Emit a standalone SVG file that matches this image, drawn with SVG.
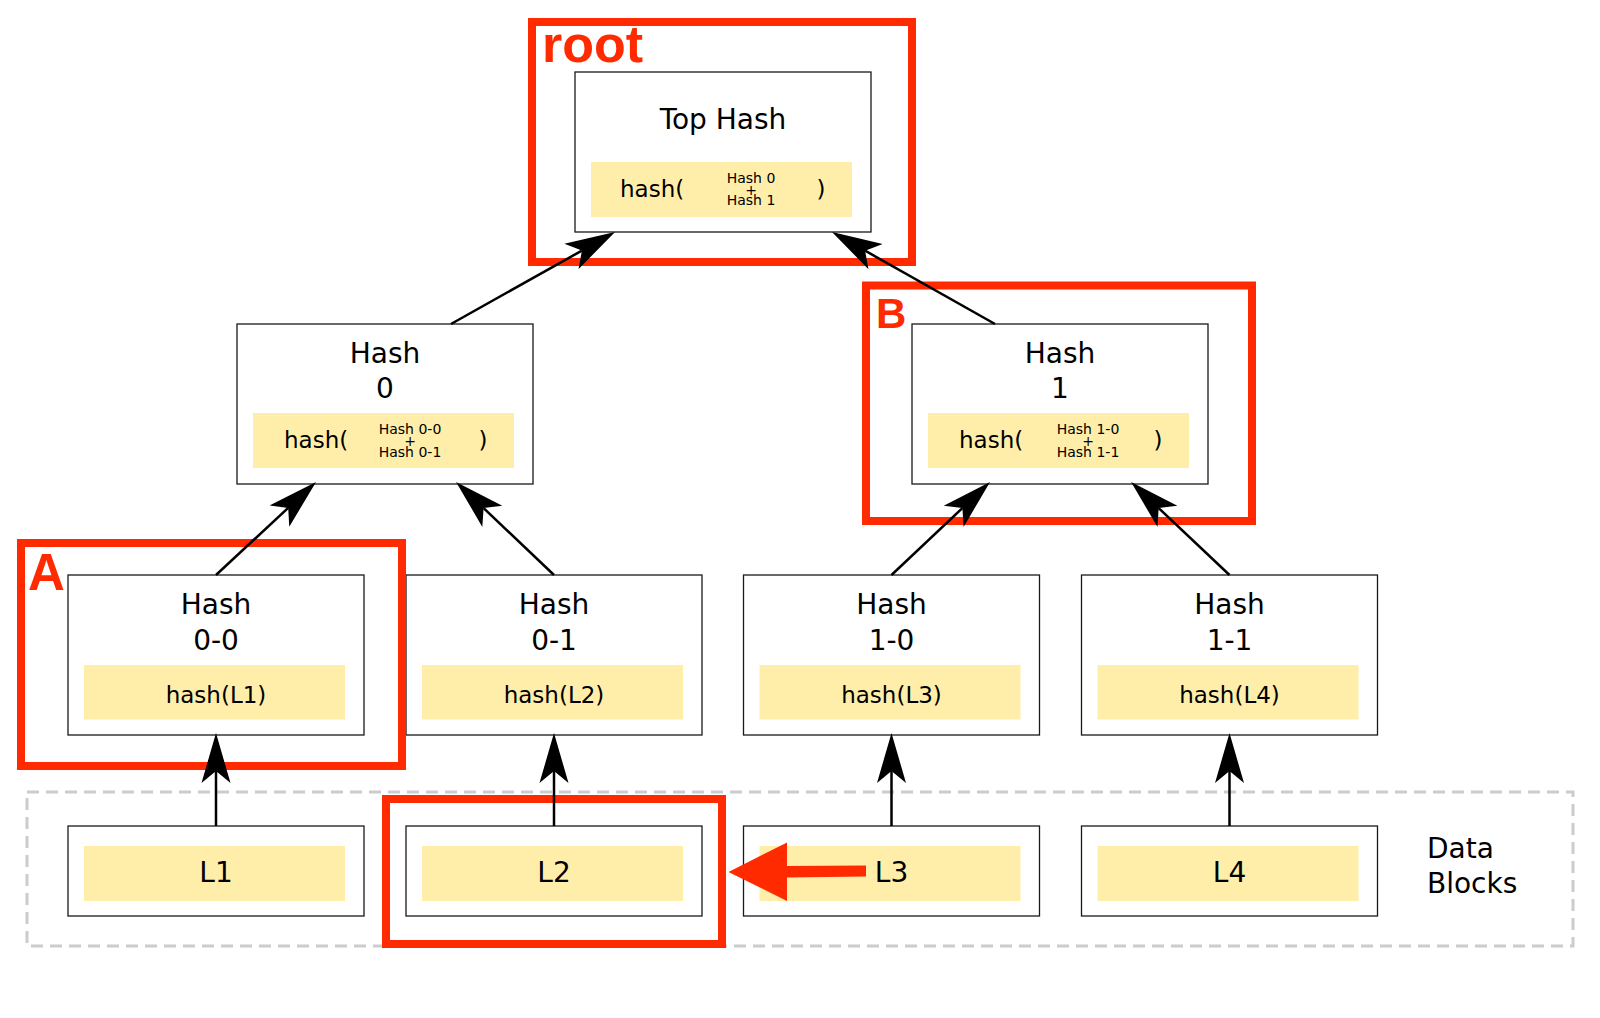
<svg xmlns="http://www.w3.org/2000/svg" width="1600" height="1018" viewBox="0 0 1600 1018">
  <style>
    .box { fill: #fff; stroke: #1a1a1a; stroke-width: 1.3; }
    .fill { fill: #ffeeaa; }
    text { font-family: "DejaVu Sans", sans-serif; fill: #000; }
    .lbl { font-size: 28px; text-anchor: middle; }
    .fn { font-size: 23px; }
    .mid { text-anchor: middle; }
    .sm { font-size: 14px; text-anchor: middle; }
    .hl { fill: none; stroke: #ff2a00; stroke-width: 8; }
    .tag { font-family: "Liberation Sans", Arial, sans-serif; font-weight: bold; fill: #ff2a00; }
    .edge { fill: none; stroke: #000; stroke-width: 2.5; marker-end: url(#head); }
  </style>
  <defs>
    <marker id="head" markerUnits="userSpaceOnUse" orient="auto" viewBox="-12 -15 50 30" markerWidth="50" markerHeight="30" refX="0" refY="0">
      <path d="M38,0 L-12,-14.5 L0,0 L-12,14.5 Z" fill="#000"/>
    </marker>
  </defs>
  <rect width="1600" height="1018" fill="#fff"/>

  <!-- data block region -->
  <g id="data-blocks">
    <rect x="27" y="792" width="1546" height="154" fill="none" stroke="#cccccc" stroke-width="3" stroke-dasharray="12,7"/>
    <text class="lbl" x="1427" y="858" style="text-anchor:start">Data</text>
    <text class="lbl" x="1427" y="893" style="text-anchor:start">Blocks</text>
  </g>

  <!-- root -->
  <g id="top-hash">
    <rect class="box" x="575" y="72" width="296" height="160"/>
    <rect class="fill" x="591" y="162" width="261" height="55"/>
    <text class="lbl" x="723" y="129">Top Hash</text>
    <text class="fn" x="620" y="197">hash(</text>
    <text class="sm" x="751" y="183">Hash 0</text>
    <text class="sm" x="751" y="195">+</text>
    <text class="sm" x="751" y="205">Hash 1</text>
    <text class="fn mid" x="821" y="197">)</text>
  </g>

  <!-- level 1 -->
  <g id="hash-0">
    <rect class="box" x="237" y="324" width="296" height="160"/>
    <rect class="fill" x="253" y="413" width="261" height="55"/>
    <text class="lbl" x="385" y="363">Hash</text>
    <text class="lbl" x="385" y="398">0</text>
    <text class="fn" x="284" y="448">hash(</text>
    <text class="sm" x="410" y="434">Hash 0-0</text>
    <text class="sm" x="410" y="446">+</text>
    <text class="sm" x="410" y="456.5">Hash 0-1</text>
    <text class="fn mid" x="483" y="448">)</text>
  </g>
  <g id="hash-1">
    <rect class="box" x="912" y="324" width="296" height="160"/>
    <rect class="fill" x="928" y="413" width="261" height="55"/>
    <text class="lbl" x="1060" y="363">Hash</text>
    <text class="lbl" x="1060" y="398">1</text>
    <text class="fn" x="959" y="448">hash(</text>
    <text class="sm" x="1088" y="434">Hash 1-0</text>
    <text class="sm" x="1088" y="446">+</text>
    <text class="sm" x="1088" y="456.5">Hash 1-1</text>
    <text class="fn mid" x="1158" y="448">)</text>
  </g>

  <!-- level 2 -->
  <g id="hash-0-0">
    <rect class="box" x="68" y="575" width="296" height="160"/>
    <rect class="fill" x="84" y="665" width="261" height="54.5"/>
    <text class="lbl" x="216" y="614">Hash</text>
    <text class="lbl" x="216" y="649.5">0-0</text>
    <text class="fn mid" x="216" y="703">hash(L1)</text>
  </g>
  <g id="hash-0-1">
    <rect class="box" x="406" y="575" width="296" height="160"/>
    <rect class="fill" x="422" y="665" width="261" height="54.5"/>
    <text class="lbl" x="554" y="614">Hash</text>
    <text class="lbl" x="554" y="649.5">0-1</text>
    <text class="fn mid" x="554" y="703">hash(L2)</text>
  </g>
  <g id="hash-1-0">
    <rect class="box" x="743.5" y="575" width="296" height="160"/>
    <rect class="fill" x="759.5" y="665" width="261" height="54.5"/>
    <text class="lbl" x="891.5" y="614">Hash</text>
    <text class="lbl" x="891.5" y="649.5">1-0</text>
    <text class="fn mid" x="891.5" y="703">hash(L3)</text>
  </g>
  <g id="hash-1-1">
    <rect class="box" x="1081.5" y="575" width="296" height="160"/>
    <rect class="fill" x="1097.5" y="665" width="261" height="54.5"/>
    <text class="lbl" x="1229.5" y="614">Hash</text>
    <text class="lbl" x="1229.5" y="649.5">1-1</text>
    <text class="fn mid" x="1229.5" y="703">hash(L4)</text>
  </g>

  <!-- data blocks -->
  <g id="l1">
    <rect class="box" x="68" y="826" width="296" height="90"/>
    <rect class="fill" x="84" y="846" width="261" height="55"/>
    <text class="lbl" x="216" y="882">L1</text>
  </g>
  <g id="l2">
    <rect class="box" x="406" y="826" width="296" height="90"/>
    <rect class="fill" x="422" y="846" width="261" height="55"/>
    <text class="lbl" x="554" y="882">L2</text>
  </g>
  <g id="l3">
    <rect class="box" x="743.5" y="826" width="296" height="90"/>
    <rect class="fill" x="759.5" y="846" width="261" height="55"/>
    <text class="lbl" x="891.5" y="882">L3</text>
  </g>
  <g id="l4">
    <rect class="box" x="1081.5" y="826" width="296" height="90"/>
    <rect class="fill" x="1097.5" y="846" width="261" height="55"/>
    <text class="lbl" x="1229.5" y="882">L4</text>
  </g>

  <!-- highlighted proof path -->
  <g id="highlights">
    <rect class="hl" x="532" y="22" width="380" height="240"/>
    <text class="tag" x="542" y="62" font-size="52">root</text>
    <rect class="hl" x="866" y="285.5" width="386" height="235.5"/>
    <text class="tag" x="876" y="328" font-size="42">B</text>
    <rect class="hl" x="21" y="543" width="381" height="223"/>
    <text class="tag" x="28" y="590" font-size="51">A</text>
    <rect class="hl" x="386" y="799" width="336" height="145"/>
  </g>

  <!-- hash edges -->
  <g id="connectors">
    <path class="edge" d="M216,826 L216,771"/>
    <path class="edge" d="M554,826 L554,771"/>
    <path class="edge" d="M891.5,826 L891.5,771"/>
    <path class="edge" d="M1229.5,826 L1229.5,771"/>
    <path class="edge" d="M216,575 L288.2,507.9"/>
    <path class="edge" d="M554,575 L483.6,508.1"/>
    <path class="edge" d="M891.5,575 L962.4,508.1"/>
    <path class="edge" d="M1229.5,575 L1158.7,508.1"/>
    <path class="edge" d="M451,324 L581.9,250.6"/>
    <path class="edge" d="M995,324 L865.1,250.7"/>
  </g>

  <!-- replaced block -->
  <g id="swap-arrow">
    <path d="M728.5,872 L787,842.5 L787,866 L866,865.5 L866,876.5 L787,877.5 L787,901 Z" fill="#ff2a00"/>
  </g>
</svg>
